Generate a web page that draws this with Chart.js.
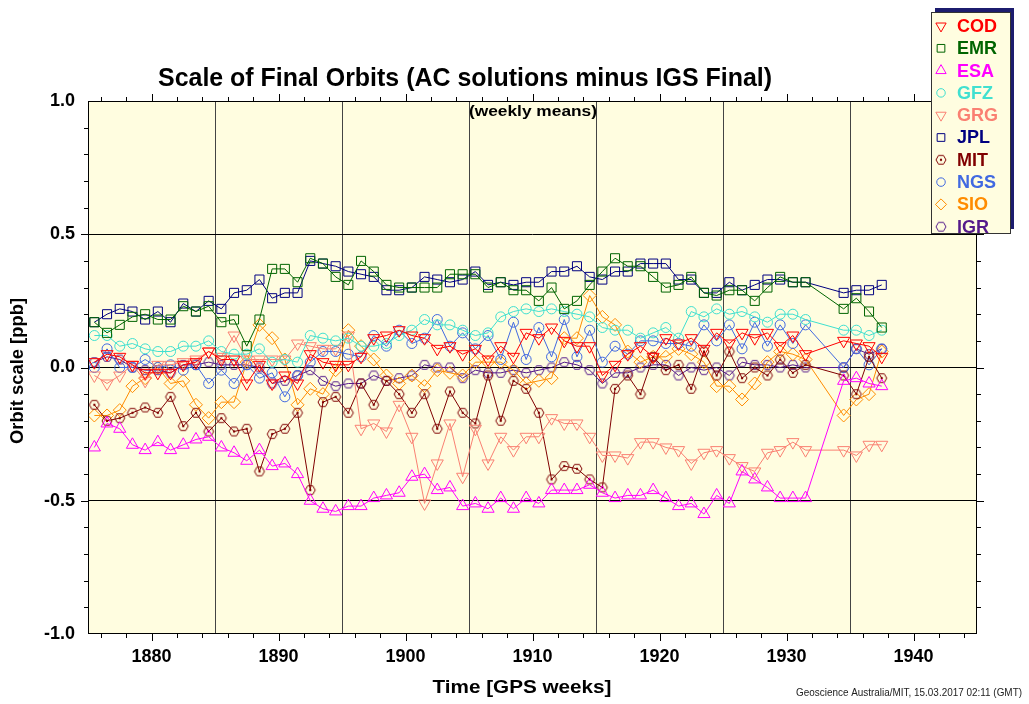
<!DOCTYPE html>
<html>
<head>
<meta charset="utf-8">
<title>Scale of Final Orbits</title>
<script src="https://cdn.jsdelivr.net/npm/chart.js@4.4.0/dist/chart.umd.min.js"></script>
<style>
    html, body { margin: 0; padding: 0; background: #fff; }
    canvas { display: block; }
</style>
</head>
<body>
<canvas id="myChart" width="1029" height="704"></canvas>
<script>
// GPS weeks of the weekly means (plotted at mid-week)
const weeks = [
    1875, 1876, 1877, 1878, 1879, 1880, 1881, 1882, 1883, 1884, 1885,
    1886, 1887, 1888, 1889, 1890, 1891, 1892, 1893, 1894, 1895,
    1896, 1897, 1898, 1899, 1900, 1901, 1902, 1903, 1904, 1905,
    1906, 1907, 1908, 1909, 1910, 1911, 1912, 1913, 1914, 1915, 1916,
    1917, 1918, 1919, 1920, 1921, 1922, 1923, 1924, 1925, 1926,
    1927, 1928, 1929, 1930, 1931,
    1934, 1935, 1936, 1937
]

const cod = [
    0.02, 0.05, 0.04, 0.01, -0.02, -0.02, -0.02, 0.01, 0.02, 0.06, 0.03,
    0.03, -0.06, 0.01, -0.06, -0.03, -0.06, 0.05, 0.02, 0.01, 0.01,
    0.04, 0.11, 0.12, 0.14, 0.12, 0.11, 0.07, 0.08, 0.05, 0.07,
    0.03, 0.08, 0.04, 0.13, 0.11, 0.15, 0.10, 0.08, 0.08, -0.03, 0.01,
    0.05, 0.08, 0.04, 0.11, 0.09, 0.11, 0.07, 0.13, 0.09, 0.13,
    0.11, 0.13, 0.08, 0.12, 0.05,
    0.10, 0.09, 0.08, 0.04
]
const emr = [
    0.17, 0.13, 0.16, 0.19, 0.20, 0.18, 0.18, 0.23, 0.21, 0.23, 0.17,
    0.18, 0.08, 0.18, 0.37, 0.37, 0.32, 0.41, 0.39, 0.34, 0.31,
    0.40, 0.36, 0.31, 0.30, 0.30, 0.30, 0.30, 0.35, 0.35, 0.35,
    0.30, 0.32, 0.29, 0.29, 0.25, 0.30, 0.22, 0.25, 0.31, 0.36, 0.41,
    0.38, 0.38, 0.34, 0.30, 0.31, 0.34, 0.28, 0.27, 0.29, 0.29,
    0.25, 0.30, 0.34, 0.32, 0.32,
    0.22, 0.26, 0.21, 0.15
]
const esa = [
    -0.30, -0.21, -0.23, -0.29, -0.31, -0.28, -0.31, -0.29, -0.27, -0.26, -0.30,
    -0.32, -0.35, -0.31, -0.37, -0.36, -0.40, -0.50, -0.53, -0.54, -0.52,
    -0.52, -0.49, -0.48, -0.47, -0.41, -0.40, -0.46, -0.45, -0.52, -0.51,
    -0.53, -0.49, -0.53, -0.49, -0.51, -0.46, -0.46, -0.46, -0.44, -0.47, -0.49,
    -0.48, -0.48, -0.46, -0.49, -0.52, -0.51, -0.55, -0.48, -0.51, -0.39,
    -0.42, -0.45, -0.49, -0.49, -0.49,
    -0.05, -0.04, -0.06, -0.07
]
const gfz = [
    0.12, 0.12, 0.08, 0.09, 0.07, 0.06, 0.06, 0.08, 0.08, 0.10, 0.06,
    0.05, 0.05, 0.07, 0.02, 0.03, 0.02, 0.12, 0.11, 0.10, 0.11,
    0.08, 0.08, 0.09, 0.12, 0.14, 0.18, 0.16, 0.16, 0.14, 0.12,
    0.13, 0.19, 0.21, 0.22, 0.21, 0.22, 0.21, 0.20, 0.19, 0.15, 0.14,
    0.14, 0.11, 0.13, 0.15, 0.11, 0.21, 0.19, 0.22, 0.20, 0.21,
    0.19, 0.17, 0.20, 0.20, 0.18,
    0.14, 0.14, 0.12, 0.14
]
const grg = [
    -0.03, -0.06, -0.03, 0.01, -0.05, 0.01, 0.01, 0.02, 0.03, 0.06, 0.04,
    0.12, 0.03, 0.03, 0.03, 0.03, 0.09, 0.08, 0.07, 0.07, 0.12,
    -0.23, -0.21, -0.24, -0.14, -0.26, -0.51, -0.36, -0.21, -0.41, -0.23,
    -0.36, -0.26, -0.31, -0.26, -0.26, -0.19, -0.21, -0.21, -0.26, -0.33, -0.33,
    -0.34, -0.28, -0.28, -0.30, -0.31, -0.36, -0.32, -0.31, -0.34, -0.37,
    -0.39, -0.32, -0.31, -0.28, -0.31,
    -0.31, -0.33, -0.29, -0.29
]
const jpl = [
    0.17, 0.20, 0.22, 0.21, 0.18, 0.21, 0.17, 0.24, 0.21, 0.25, 0.22,
    0.28, 0.29, 0.33, 0.26, 0.28, 0.28, 0.40, 0.39, 0.38, 0.36,
    0.35, 0.34, 0.29, 0.29, 0.30, 0.34, 0.33, 0.32, 0.33, 0.36,
    0.31, 0.32, 0.31, 0.32, 0.32, 0.36, 0.36, 0.38, 0.34, 0.33, 0.36,
    0.36, 0.39, 0.39, 0.39, 0.33, 0.33, 0.28, 0.28, 0.32, 0.29,
    0.31, 0.33, 0.33, 0.32, 0.32,
    0.28, 0.29, 0.29, 0.31
]
const mit = [
    -0.14, -0.20, -0.19, -0.17, -0.15, -0.17, -0.11, -0.22, -0.17, -0.24, -0.19,
    -0.24, -0.23, -0.39, -0.25, -0.23, -0.17, -0.46, -0.13, -0.11, -0.17,
    -0.06, -0.14, -0.05, -0.10, -0.17, -0.10, -0.23, -0.09, -0.17, -0.21,
    -0.03, -0.20, -0.05, -0.08, -0.17, -0.42, -0.37, -0.38, -0.42, -0.45, -0.08,
    -0.03, -0.10, 0.04, -0.01, 0.01, -0.08, 0.06, -0.03, 0.06, -0.04,
    0.00, -0.03, 0.03, -0.02, 0.01,
    -0.03, -0.10, 0.04, -0.04
]
const ngs = [
    0.00, 0.07, 0.00, 0.00, 0.03, 0.00, 0.01, -0.01, 0.01, -0.06, -0.01,
    -0.06, 0.01, -0.04, -0.02, -0.11, -0.03, 0.02, 0.06, 0.06, 0.05,
    0.04, 0.12, 0.08, 0.14, 0.09, 0.11, 0.18, 0.08, 0.13, 0.07,
    0.12, 0.03, 0.17, 0.03, 0.15, 0.04, 0.18, 0.04, 0.14, 0.02, 0.08,
    0.05, 0.10, 0.10, 0.09, 0.09, 0.08, 0.16, 0.10, 0.16, 0.07,
    0.17, 0.08, 0.16, 0.09, 0.16,
    0.00, 0.07, 0.01, 0.07
]
const sio = [
    -0.18, -0.18, -0.16, -0.07, -0.04, 0.00, -0.06, -0.05, -0.14, -0.19, -0.13,
    -0.13, 0.02, 0.16, 0.11, 0.03, -0.14, -0.08, -0.10, -0.01, 0.14,
    0.08, 0.03, -0.03, -0.06, -0.03, -0.07, -0.01, -0.02, -0.03, 0.02,
    0.02, 0.02, -0.01, -0.06, -0.05, -0.04, 0.11, 0.11, 0.27, 0.19, 0.16,
    0.06, 0.02, 0.04, 0.04, 0.07, 0.05, 0.02, -0.07, -0.07, -0.12,
    -0.06, 0.02, 0.06, 0.05, 0.03,
    -0.18, -0.12, -0.10, 0.06
]
const igr = [
    0.02, 0.04, 0.03, 0.00, -0.01, -0.01, -0.02, 0.01, 0.01, 0.02, 0.01,
    0.01, 0.01, 0.00, -0.06, -0.05, -0.03, -0.01, -0.05, -0.07, -0.06,
    -0.06, -0.03, -0.05, -0.04, -0.03, 0.01, 0.00, 0.00, -0.04, -0.01,
    -0.02, -0.02, -0.01, -0.02, -0.01, 0.00, 0.02, 0.01, -0.01, -0.06, -0.02,
    -0.02, 0.00, 0.01, 0.01, -0.03, 0.00, -0.01, 0.00, -0.03, 0.02,
    0.01, 0.01, 0.00, 0.01, 0.00,
    0.00, 0.07, 0.05, 0.07
]

const yTicks = [-1.0, -0.5, 0.0, 0.5, 1.0]
const xLabels = [1880, 1890, 1900, 1910, 1920, 1930, 1940]

const FONT = '"Liberation Sans", Arial, Helvetica, sans-serif'
const PLOT_BG = '#fffde0'

function hexagon(color, dot) {
    const c = document.createElement('canvas')
    c.width = 14
    c.height = 14
    const g = c.getContext('2d')
    g.strokeStyle = color
    g.lineWidth = 1
    g.beginPath()
    for (let i = 0; i < 6; i++) {
        const a = i * Math.PI / 3
        const px = 7 + 5 * Math.cos(a)
        const py = 7 + 5 * Math.sin(a)
        i ? g.lineTo(px, py) : g.moveTo(px, py)
    }
    g.closePath()
    g.stroke()
    if (dot) {
        g.fillStyle = color
        g.beginPath()
        g.arc(7, 7, 1.2, 0, 2 * Math.PI)
        g.fill()
    }
    return c
}

const series = [
    { name: 'COD', color: '#ff0000', values: cod, style: 'triangle', rot: 180, r: 7 },
    { name: 'EMR', color: '#006400', values: emr, style: 'rect', rot: 0, r: 6.4 },
    { name: 'ESA', color: '#ff00ff', values: esa, style: 'triangle', rot: 0, r: 7 },
    { name: 'GFZ', color: '#40e0d0', values: gfz, style: 'circle', rot: 0, r: 5 },
    { name: 'GRG', color: '#fa8072', values: grg, style: 'triangle', rot: 180, r: 7 },
    { name: 'JPL', color: '#000080', values: jpl, style: 'rect', rot: 0, r: 6.4 },
    { name: 'MIT', color: '#800000', values: mit, style: hexagon('#800000', true), rot: 0, r: 6 },
    { name: 'NGS', color: '#4169e1', values: ngs, style: 'circle', rot: 0, r: 5 },
    { name: 'SIO', color: '#ff8c00', values: sio, style: 'rectRot', rot: 0, r: 6.5 },
    { name: 'IGR', color: '#551a8b', values: igr, style: hexagon('#551a8b', false), rot: 0, r: 6 }
]

const datasets = series.map(s => ({
    label: s.name,
    data: weeks.map((w, i) => ({ x: w + 0.5, y: s.values[i] })),
    borderColor: s.color,
    borderWidth: 1,
    pointStyle: s.style,
    pointRotation: s.rot,
    pointRadius: s.r,
    pointBorderColor: s.color,
    pointBorderWidth: 1,
    pointBackgroundColor: 'rgba(0,0,0,0)',
    tension: 0
}))

function fitText(ctx, text, cx, cy, font, width, color, rotate) {
    ctx.save()
    ctx.font = font
    const w = ctx.measureText(text).width
    ctx.translate(cx, cy)
    if (rotate) ctx.rotate(-Math.PI / 2)
    ctx.scale(width / w, 1)
    ctx.textAlign = 'center'
    ctx.textBaseline = 'middle'
    ctx.fillStyle = color
    ctx.fillText(text, 0, 0)
    ctx.restore()
}

const decorations = {
    id: 'decorations',
    beforeDraw(chart) {
        const { ctx, chartArea: a } = chart
        ctx.save()
        ctx.fillStyle = PLOT_BG
        ctx.fillRect(a.left, a.top, a.right - a.left, a.bottom - a.top)
        ctx.restore()
    },
    afterDraw(chart) {
        const { ctx, chartArea: a } = chart
        const xs = chart.scales.x
        const ys = chart.scales.y
        ctx.save()
        ctx.strokeStyle = '#000'
        ctx.lineWidth = 1
        ctx.strokeRect(a.left + 0.5, a.top + 0.5, a.right - a.left - 1, a.bottom - a.top - 1)

        // minor and major tick marks, outside the frame on all sides
        ctx.beginPath()
        for (let w = 1876; w <= 1944; w += 2) {
            const px = Math.round(xs.getPixelForValue(w)) + 0.5
            const len = w % 10 === 0 ? 7 : 4
            ctx.moveTo(px, a.bottom)
            ctx.lineTo(px, a.bottom + len)
            ctx.moveTo(px, a.top)
            ctx.lineTo(px, a.top - len)
        }
        for (let k = -9; k <= 9; k++) {
            const py = Math.round(ys.getPixelForValue(k / 10)) + 0.5
            const len = k % 5 === 0 ? 7 : 4
            ctx.moveTo(a.left, py)
            ctx.lineTo(a.left - len, py)
            ctx.moveTo(a.right, py)
            ctx.lineTo(a.right + len, py)
        }
        ctx.stroke()

        fitText(ctx, 'Scale of Final Orbits (AC solutions minus IGS Final)', 465, 79, 'bold 25px ' + FONT, 614, '#000')
        fitText(ctx, '(weekly means)', 533, 112, 'bold 15px ' + FONT, 128, '#000')
        fitText(ctx, 'Time [GPS weeks]', 522, 688, 'bold 19px ' + FONT, 179, '#000')
        fitText(ctx, 'Orbit scale [ppb]', 18, 371, 'bold 18px ' + FONT, 146, '#000', true)
        fitText(ctx, 'Geoscience Australia/MIT, 15.03.2017 02:11 (GMT)', 909, 693, '10px ' + FONT, 226, '#222')

        // legend box with offset shadow
        const lx = 931, ly = 12, lw = 79, lh = 221
        ctx.fillStyle = '#1c1c6e'
        ctx.fillRect(lx + 4, ly - 4, lw, lh)
        ctx.fillStyle = PLOT_BG
        ctx.fillRect(lx, ly, lw, lh)
        ctx.strokeStyle = '#333'
        ctx.strokeRect(lx + 0.5, ly + 0.5, lw, lh)

        series.forEach((s, i) => {
            const y = 26 + i * 22.3
            ctx.strokeStyle = s.color
            ctx.fillStyle = 'rgba(0,0,0,0)'
            ctx.lineWidth = 1
            const legendR = typeof s.style === 'string' ? s.r * 0.85 : s.r
            Chart.helpers.drawPoint(ctx, {
                pointStyle: s.style,
                rotation: s.rot,
                radius: legendR,
                borderWidth: 1
            }, 941, y)
            ctx.fillStyle = s.color
            ctx.font = 'bold 18px ' + FONT
            ctx.textAlign = 'left'
            ctx.textBaseline = 'middle'
            ctx.fillText(s.name, 957, y + 1)
        })
        ctx.restore()
    }
}

new Chart(document.getElementById('myChart'), {
    type: 'line',
    data: { datasets: datasets },
    options: {
        responsive: false,
        animation: false,
        devicePixelRatio: 1,
        layout: { padding: { top: 101, right: 52, left: 0, bottom: 0 } },
        plugins: {
            legend: { display: false },
            title: { display: false },
            tooltip: { enabled: false }
        },
        scales: {
            x: {
                type: 'linear',
                min: 1875,
                max: 1945,
                afterFit: scale => { scale.height = 70 },
                border: { display: false },
                ticks: {
                    stepSize: 5,
                    padding: 12,
                    maxRotation: 0,
                    autoSkip: false,
                    color: '#000',
                    font: { family: FONT, size: 18, weight: 'bold' },
                    callback: v => xLabels.includes(v) ? String(v) : ''
                },
                grid: {
                    drawTicks: false,
                    lineWidth: 1,
                    color: c => (c.tick && c.tick.value % 10 === 5 && c.tick.value > 1875 && c.tick.value < 1945) ? '#444' : 'rgba(0,0,0,0)'
                }
            },
            y: {
                min: -1,
                max: 1,
                afterFit: scale => { scale.width = 88 },
                afterBuildTicks: scale => { scale.ticks = yTicks.map(v => ({ value: v })) },
                border: { display: false },
                ticks: {
                    padding: 13,
                    color: '#000',
                    font: { family: FONT, size: 18, weight: 'bold' },
                    callback: v => v.toFixed(1)
                },
                grid: {
                    drawTicks: false,
                    lineWidth: 1,
                    color: c => (c.tick && Math.abs(c.tick.value) < 0.9) ? '#000' : 'rgba(0,0,0,0)'
                }
            }
        }
    },
    plugins: [decorations]
})
</script>
</body>
</html>
